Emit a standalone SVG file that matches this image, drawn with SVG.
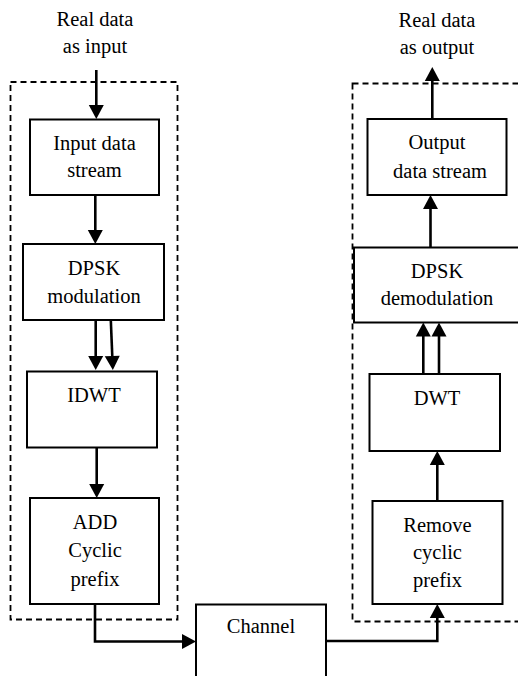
<svg xmlns="http://www.w3.org/2000/svg" width="518" height="676" viewBox="0 0 518 676" font-family="'Liberation Serif', 'Times New Roman', serif">
<defs>
<marker id="ah" markerUnits="userSpaceOnUse" markerWidth="14" markerHeight="15" refX="8" refY="7.5" orient="auto" overflow="visible">
<path d="M0,0 L14,7.5 L0,15 z" fill="#000"/>
</marker>
</defs>
<style>
.box{fill:#fff;stroke:#000;stroke-width:2}
.dash{fill:none;stroke:#000;stroke-width:1.8;stroke-dasharray:6 4}
.t{font-family:'Liberation Serif','Times New Roman',serif;font-size:20.5px;fill:#000;text-anchor:middle}
.c{fill:none;stroke:#000;stroke-width:2.6}
.a{marker-end:url(#ah)}
</style>
<rect x="0" y="0" width="518" height="676" fill="#fff"/>
<g id="groups">
<rect class="dash" x="10.5" y="82" width="167" height="537.5"/>
<rect class="dash" x="352.5" y="83.5" width="180" height="538"/>
</g>
<g id="labels">
<text class="t" x="95" y="26">Real data</text>
<text class="t" x="95" y="53">as input</text>
<text class="t" x="437" y="27">Real data</text>
<text class="t" x="437" y="53.5">as output</text>
</g>
<g id="input">
<rect class="box" x="30" y="119.5" width="129" height="75.5"/>
<text class="t" x="94.5" y="150">Input data</text>
<text class="t" x="94.5" y="177">stream</text>
</g>
<g id="dpsk-mod">
<rect class="box" x="23" y="244" width="141" height="76"/>
<text class="t" x="94" y="275">DPSK</text>
<text class="t" x="94" y="302.5">modulation</text>
</g>
<g id="idwt">
<rect class="box" x="27" y="371.5" width="130" height="76"/>
<text class="t" x="94" y="401.5">IDWT</text>
</g>
<g id="add-cp">
<rect class="box" x="30" y="498" width="129" height="106"/>
<text class="t" x="95" y="529">ADD</text>
<text class="t" x="95" y="557">Cyclic</text>
<text class="t" x="95" y="586">prefix</text>
</g>
<g id="channel">
<rect class="box" x="196" y="604.5" width="130" height="90"/>
<text class="t" x="261" y="633">Channel</text>
</g>
<g id="output">
<rect class="box" x="367.5" y="119" width="139" height="76"/>
<text class="t" x="437" y="149">Output</text>
<text class="t" x="440" y="178">data stream</text>
</g>
<g id="dpsk-demod">
<rect class="box" x="354" y="247.5" width="180" height="75"/>
<text class="t" x="437" y="277.5">DPSK</text>
<text class="t" x="437" y="305">demodulation</text>
</g>
<g id="dwt">
<rect class="box" x="369.5" y="374" width="130.5" height="77"/>
<text class="t" x="437" y="405">DWT</text>
</g>
<g id="remove-cp">
<rect class="box" x="372.5" y="501" width="130" height="103"/>
<text class="t" x="437.5" y="532">Remove</text>
<text class="t" x="437.5" y="558.5">cyclic</text>
<text class="t" x="437.5" y="587">prefix</text>
</g>
<g id="connectors">
<line class="c a" x1="96.3" y1="70" x2="96.3" y2="113"/>
<line class="c a" x1="95.3" y1="195" x2="95.3" y2="238"/>
<line class="c a" x1="95.7" y1="320" x2="95.7" y2="364"/>
<line class="c a" x1="110.8" y1="320" x2="112.6" y2="364"/>
<line class="c a" x1="96.7" y1="448" x2="96.7" y2="492"/>
<polyline class="c a" points="95,604 95,641.5 190,641.5"/>
<polyline class="c a" points="326,641 437.3,641 437.3,610"/>
<line class="c a" x1="437.3" y1="501" x2="437.3" y2="457"/>
<line class="c a" x1="423.3" y1="374" x2="423.3" y2="328.5"/>
<line class="c a" x1="439" y1="374" x2="439" y2="328.5"/>
<line class="c a" x1="430.5" y1="247.5" x2="430.5" y2="201"/>
<line class="c a" x1="432.3" y1="119" x2="432.3" y2="73"/>
</g>
</svg>
